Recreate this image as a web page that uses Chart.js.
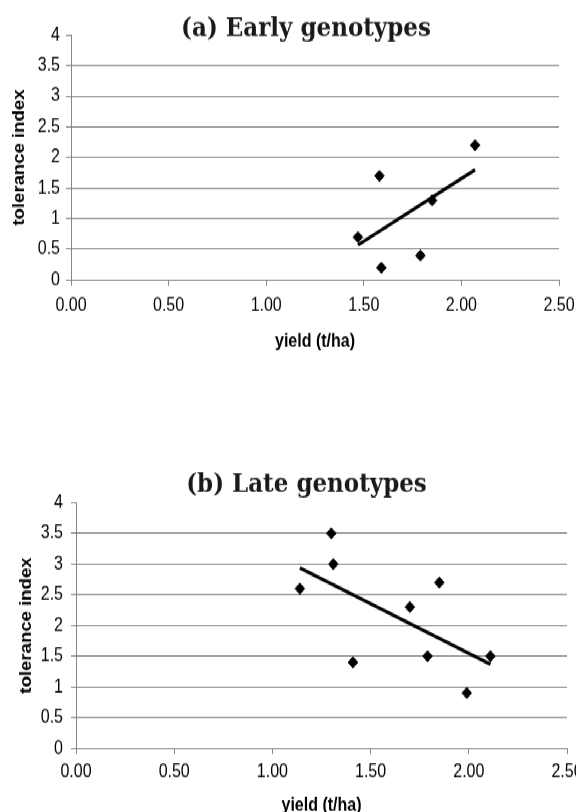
<!DOCTYPE html>
<html>
<head>
<meta charset="utf-8">
<script src="https://cdn.jsdelivr.net/npm/chart.js@4/dist/chart.umd.min.js"></script>
<style>
  html, body { margin: 0; padding: 0; background: #fff; overflow: hidden; }
  #wrap { position: absolute; left: 0; top: 0; width: 576px; height: 700px; overflow: hidden;
          transform: scaleY(1.16); transform-origin: 0 0; }
  canvas { position: absolute; left: 0; }
  #early { top: 0; }
  #late { top: 370px; }
</style>
</head>
<body>
<div id="wrap">
  <canvas id="early" width="576" height="360"></canvas>
  <canvas id="late" width="576" height="345"></canvas>
</div>
<script>
// ---- data ----
const xTickLabels = ['0.00', '0.50', '1.00', '1.50', '2.00', '2.50'];
const yTickLabels = ['0', '0.5', '1', '1.5', '2', '2.5', '3', '3.5', '4'];

const earlyTitle = '(a) Early genotypes';
const earlyYield = [1.47, 1.58, 1.59, 1.79, 1.85, 2.07];
const earlyTolerance = [0.7, 1.7, 0.2, 0.4, 1.3, 2.2];
const earlyTrendYield = [1.47, 2.07];
const earlyTrendTolerance = [0.57, 1.80];

const lateTitle = '(b) Late genotypes';
const lateYield = [1.14, 1.30, 1.31, 1.41, 1.70, 1.79, 1.85, 1.99, 2.11];
const lateTolerance = [2.6, 3.5, 3.0, 1.4, 2.3, 1.5, 2.7, 0.9, 1.5];
const lateTrendYield = [1.14, 2.11];
const lateTrendTolerance = [2.94, 1.37];

const xAxisTitle = 'yield (t/ha)';
const yAxisTitle = 'tolerance index';

// ---- rendering ----
Chart.defaults.font.family = '"Liberation Sans", Arial, sans-serif';
Chart.defaults.color = '#000';

const GRID = '#858585';

const panelTitle = {
  id: 'panelTitle',
  afterDraw(chart, args, opts) {
    const ctx = chart.ctx;
    ctx.save();
    ctx.font = 'bold 23px "DejaVu Serif", serif';
    ctx.fillStyle = '#1a1a1a';
    ctx.textAlign = 'center';
    ctx.textBaseline = 'alphabetic';
    ctx.fillText(opts.text, opts.x, opts.y);
    ctx.restore();
  }
};

function toPoints(xs, ys) { return xs.map((x, i) => ({ x: x, y: ys[i] })); }

function makeChart(id, lay) {
  return new Chart(document.getElementById(id), {
    type: 'scatter',
    data: {
      datasets: [
        {
          data: toPoints(lay.xs, lay.ys),
          pointStyle: 'rectRot',
          pointRadius: 4.8,
          pointBorderWidth: 1,
          backgroundColor: '#000',
          borderColor: '#000'
        },
        {
          data: toPoints(lay.txs, lay.tys),
          showLine: true,
          pointRadius: 0,
          borderColor: '#000',
          borderWidth: 3,
          fill: false
        }
      ]
    },
    plugins: [panelTitle],
    options: {
      responsive: false,
      animation: false,
      devicePixelRatio: 1,
      layout: { padding: { top: lay.padTop, right: lay.padRight, bottom: lay.padBottom, left: 0 } },
      plugins: {
        legend: { display: false },
        tooltip: { enabled: false },
        panelTitle: { text: lay.title, x: lay.titleX, y: lay.titleY }
      },
      scales: {
        x: {
          type: 'linear',
          min: 0, max: 2.5,
          ticks: {
            stepSize: 0.5,
            padding: lay.xTickPad,
            font: { size: 16 },
            color: '#000',
            callback: (v, i) => xTickLabels[i]
          },
          grid: { drawOnChartArea: false, drawTicks: true, tickLength: 5, tickColor: GRID },
          border: { display: true, color: GRID, width: 1 },
          title: {
            display: true, text: xAxisTitle, color: '#000',
            font: { size: 16, weight: 'bold' },
            padding: { top: 4, bottom: 4 }
          },
          afterFit(s) { s.height = lay.xHeight; s.paddingLeft = 0; s.paddingRight = 0; }
        },
        y: {
          type: 'linear',
          min: 0, max: 4,
          ticks: {
            stepSize: 0.5,
            padding: lay.yTickPad,
            font: { size: 16 },
            color: '#000',
            callback: (v, i) => yTickLabels[i]
          },
          grid: {
            drawTicks: true, tickLength: 5, tickColor: GRID,
            color: (c) => (c.tick && c.tick.value === 4) ? 'rgba(0,0,0,0)' : GRID,
            lineWidth: 1
          },
          border: { display: true, color: GRID, width: 1 },
          title: {
            display: true, text: yAxisTitle, color: '#000',
            font: { size: 16, weight: 'bold' },
            padding: { top: lay.yTitlePad, bottom: 0 }
          },
          afterFit(s) { s.width = lay.yWidth; s.paddingTop = 0; s.paddingBottom = 0; }
        }
      }
    }
  });
}

makeChart('early', {
  title: earlyTitle, titleX: 306, titleY: 30.8,
  xs: earlyYield, ys: earlyTolerance, txs: earlyTrendYield, tys: earlyTrendTolerance,
  padTop: 30.2, padRight: 17, padBottom: 51.7,
  xHeight: 66.9, yWidth: 71,
  xTickPad: 7.5, yTickPad: 6, yTitlePad: 9.9
});

makeChart('late', {
  title: lateTitle, titleX: 306.5, titleY: 53.9,
  xs: lateYield, ys: lateTolerance, txs: lateTrendYield, tys: lateTrendTolerance,
  padTop: 63.4, padRight: 9, padBottom: 6.4,
  xHeight: 63.5, yWidth: 76,
  xTickPad: 6, yTickPad: 8, yTitlePad: 17.2
});
</script>
</body>
</html>
